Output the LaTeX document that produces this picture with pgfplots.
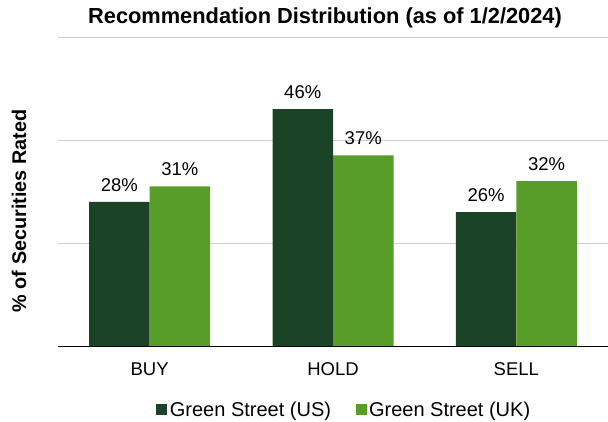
\documentclass[border=0pt]{standalone}
\usepackage{pgfplots}
\pgfplotsset{compat=1.18}
\usepackage{fontspec}
\setmainfont{Liberation Sans}
\definecolor{darkg}{HTML}{1B4327}
\definecolor{lightg}{HTML}{589D27}
\definecolor{gridg}{HTML}{D0D0D0}
\begin{document}
\begin{tikzpicture}
\path[use as bounding box] (0,0) rectangle (608pt,422pt);
\node[font=\bfseries\fontsize{21.8}{24}\selectfont] at (325pt,404pt) {Recommendation Distribution (as of 1/2/2024)};
\node[font=\bfseries\fontsize{19.8}{22}\selectfont, rotate=90] at (19pt,211pt) {\% of Securities Rated};
\begin{axis}[
  at={(58pt,76pt)}, anchor=south west,
  scale only axis, width=550pt, height=309pt,
  /pgf/number format/assume math mode=true,
  ybar=0pt, bar width=0.33,
  xmin=-0.5, xmax=2.5, ymin=0, ymax=60,
  xtick={0,1,2}, xticklabels={BUY,HOLD,SELL},
  ytick={20,40,60}, yticklabels={},
  ymajorgrids, grid style={gridg, line width=0.8pt},
  axis x line*=bottom, axis y line*=left,
  x axis line style={black, line width=0.8pt, -},
  y axis line style={draw=none},
  major tick length=0pt,
  tick label style={font=\fontsize{18.5}{22}\selectfont},
  xticklabel style={yshift=-13pt},
  nodes near coords={\pgfmathprintnumber{\pgfplotspointmeta}\%},
  nodes near coords style={font=\fontsize{18.5}{22}\selectfont, yshift=7pt},
  legend style={at={(0.521,-0.207)}, anchor=center, legend columns=2, draw=none,
    font=\fontsize{20}{22}\selectfont, column sep=0pt,
    /tikz/every even column/.append style={column sep=22pt},
    nodes={inner xsep=2.5pt}},
  legend image code/.code={\fill[#1] (0pt,-5.5pt) rectangle (11pt,5.5pt);},
]
\addplot[fill=darkg, draw=none] coordinates {(0,28) (1,46) (2,26)};
\addplot[fill=lightg, draw=none] coordinates {(0,31) (1,37) (2,32)};
\legend{Green Street (US), Green Street (UK)}
\end{axis}
\end{tikzpicture}
\end{document}
